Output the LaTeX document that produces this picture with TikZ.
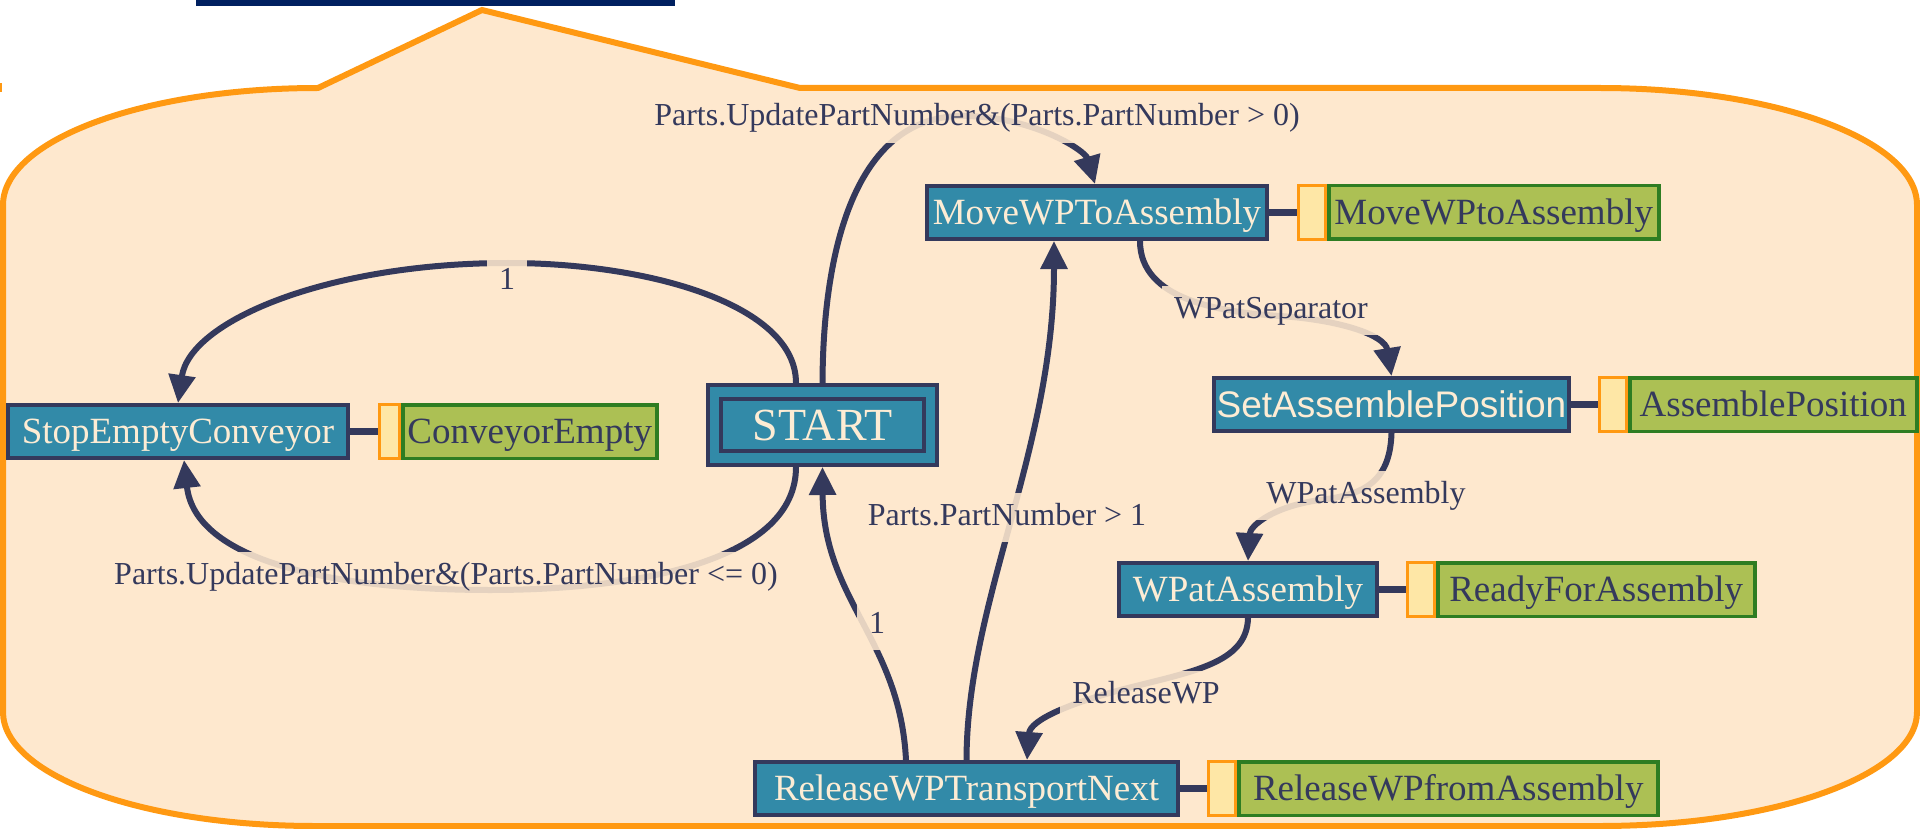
\documentclass[tikz,border=0pt]{standalone}
\usepackage{fontspec}
\setmainfont{Liberation Serif}
\newfontfamily\sansface{Liberation Sans}
\usetikzlibrary{arrows.meta,calc}

\definecolor{pagebg}{RGB}{254,232,206}
\definecolor{frameorange}{RGB}{255,153,18}
\definecolor{barblue}{RGB}{0,32,96}
\definecolor{ink}{RGB}{52,57,92}
\definecolor{stateblue}{RGB}{50,138,168}
\definecolor{cream}{RGB}{253,236,212}
\definecolor{actgreen}{RGB}{172,192,84}
\definecolor{actborder}{RGB}{46,125,34}
\definecolor{tagyellow}{RGB}{254,231,166}

\begin{document}
\begin{tikzpicture}[x=1pt,y=-1pt,
  frame/.style={draw=frameorange,line width=6pt,fill=pagebg},
  state/.style={draw=ink,line width=4pt,fill=stateblue,text=cream,
    font=\fontsize{37}{44}\selectfont,inner sep=0pt,
    text height=24.5pt,text depth=0pt,minimum height=53pt},
  startbox/.style={draw=ink,line width=4pt,fill=stateblue,inner sep=0pt},
  tagbox/.style={draw=frameorange,line width=3pt,fill=tagyellow,
    inner sep=0pt,minimum height=54pt},
  actbox/.style={draw=actborder,line width=3.5pt,fill=actgreen,text=ink,
    font=\fontsize{37}{44}\selectfont,inner sep=0pt,
    text height=24.5pt,text depth=0pt,minimum height=53.5pt},
  link/.style={draw=ink,line width=7pt},
  edge/.style={draw=ink,line width=6pt,-{Triangle[length=28pt,width=26pt]}},
  elabel/.style={text=ink,font=\fontsize{32}{38}\selectfont,
    fill=pagebg,fill opacity=0.88,text opacity=1,
    inner xsep=12pt,inner ysep=9pt,text height=23pt,text depth=8pt,anchor=base}
]
\useasboundingbox (0,0) rectangle (1920,829);

% title bar and the orange frame of the state machine
\fill[barblue] (196,0) rectangle (675,6);
\fill[frameorange] (0,83) rectangle (1.5,92);
\draw[frame] (318,88) -- (482,10) -- (800,88) -- (1600,88)
  .. controls (1775,88) and (1917,140) .. (1917,205) -- (1917,712)
  .. controls (1917,775) and (1775,826) .. (1600,826) -- (315,826)
  .. controls (141,826) and (3,775) .. (3,712) -- (3,205)
  .. controls (3,140) and (144,88) .. (318,88) -- cycle;

% states
\node[state,minimum width=340] (sec) at (178,431.5) {StopEmptyConveyor};
\node[startbox,minimum width=229,minimum height=80] (start) at (822.5,425) {};
\node[startbox,minimum width=203,minimum height=52,text=cream,
  font=\fontsize{46}{54}\selectfont,text height=31pt,text depth=0pt] (startin) at (start.center) {START};
\node[state,minimum width=340] (mwp) at (1097,212.5) {MoveWPToAssembly};
\node[state,minimum width=355,font=\sansface\fontsize{37}{44}\selectfont,text height=26.5pt] (sap) at (1391.5,404.5) {SetAssemblePosition};
\node[state,minimum width=258] (wpa) at (1248,589.5) {WPatAssembly};
\node[state,minimum width=423] (rel) at (966.5,788.5) {ReleaseWPTransportNext};

% actions attached to the states
\node[tagbox,minimum width=20,anchor=west] (ceTag) at (378,431.5) {};
\node[actbox,minimum width=254,anchor=west] (ce) at (ceTag.east) {ConveyorEmpty};
\node[tagbox,minimum width=27,anchor=west] (mwpTag) at (1297,212.5) {};
\node[actbox,minimum width=330,anchor=west] (mwpAct) at (mwpTag.east) {MoveWPtoAssembly};
\node[tagbox,minimum width=27,anchor=west] (sapTag) at (1598,404.5) {};
\node[actbox,minimum width=287,anchor=west] (sapAct) at (sapTag.east) {AssemblePosition};
\node[tagbox,minimum width=27,anchor=west] (wpaTag) at (1406,589.5) {};
\node[actbox,minimum width=317,anchor=west] (wpaAct) at (wpaTag.east) {ReadyForAssembly};
\node[tagbox,minimum width=27,anchor=west] (relTag) at (1207,788.5) {};
\node[actbox,minimum width=419,anchor=west] (relAct) at (relTag.east) {ReleaseWPfromAssembly};

\draw[link] (sec.east) -- (ceTag.west);
\draw[link] (mwp.east) -- (mwpTag.west);
\draw[link] (sap.east) -- (sapTag.west);
\draw[link] (wpa.east) -- (wpaTag.west);
\draw[link] (rel.east) -- (relTag.west);

% transitions
\draw[edge] ([xshift=-26.5pt]start.north) .. controls (796,305) and (650,263) .. (508,263)
  .. controls (330,263) and (190,320) .. (sec.north);
\draw[edge] ([xshift=-26.5pt]start.south) .. controls (796,560) and (640,590) .. (490,590)
  .. controls (330,590) and (195,560) .. ([xshift=6pt]sec.south);
\draw[edge] (start.north) .. controls (823,250) and (855,118) .. (960,116)
  .. controls (1030,115) and (1085,150) .. ([xshift=-2pt]mwp.north);
\draw[edge] (rel.north) .. controls (967,600) and (1054,450) .. ([xshift=-43pt]mwp.south);
\draw[edge] ([xshift=-60.5pt]rel.north) .. controls (900,640) and (823,600) .. (start.south);
\draw[edge] ([xshift=43pt]mwp.south) .. controls (1140,300) and (1220,312) .. (1280,316)
  .. controls (1340,320) and (1385,335) .. (sap.north);
\draw[edge] (sap.south) .. controls (1390,485) and (1360,495) .. (1320,500)
  .. controls (1275,506) and (1250,525) .. (wpa.north);
\draw[edge] (wpa.south) .. controls (1247,660) and (1200,670) .. (1140,685)
  .. controls (1070,702) and (1030,720) .. ([xshift=60.5pt]rel.north);

% transition labels
\node[elabel] (lbEmpty) at (507,290) {1};
\node[elabel] (lbMore) at (977,126) {Parts.UpdatePartNumber\&(Parts.PartNumber > 0)};
\node[elabel] (lbNone) at (446,584) {Parts.UpdatePartNumber\&(Parts.PartNumber <= 0)};
\node[elabel] (lbNext) at (1007,525) {Parts.PartNumber > 1};
\node[elabel] (lbBack) at (877,633) {1};
\node[elabel] (lbSep) at (1271,318) {WPatSeparator};
\node[elabel] (lbAsm) at (1366,503) {WPatAssembly};
\node[elabel] (lbRel) at (1146,703) {ReleaseWP};
\end{tikzpicture}
\end{document}
